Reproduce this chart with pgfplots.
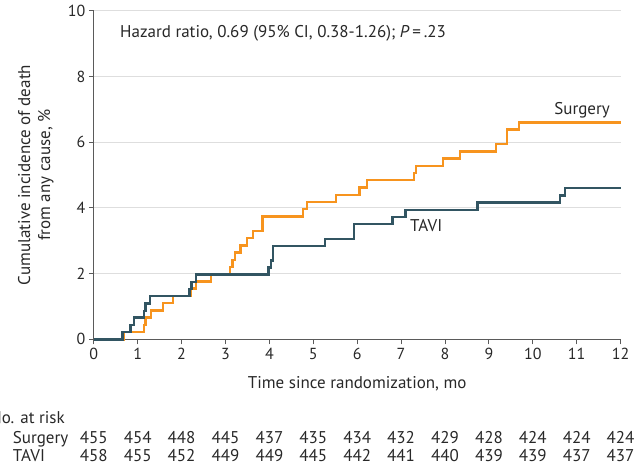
\documentclass[border=0pt]{standalone}
\usepackage{fontspec}
\setmainfont{PT Sans}
\usepackage{pgfplots}
\pgfplotsset{compat=1.18}
\definecolor{surg}{RGB}{247,148,30}
\definecolor{tavi}{RGB}{50,85,98}
\definecolor{txt}{RGB}{40,40,40}
\definecolor{axc}{RGB}{90,90,90}
\begin{document}
\begin{tikzpicture}[font=\fontsize{17}{20}\selectfont, text=txt]
\begin{axis}[at={(0,0)}, anchor=south west,
  scale only axis, width=526.8pt, height=328.6pt,
  xmin=0, xmax=12, ymin=0, ymax=10,
  axis lines=left,
  axis line style={axc, line width=0.9pt, -},
  xtick={0,1,...,12}, ytick={0,2,...,10},
  tick align=outside, major tick length=5pt,
  tick style={axc, line width=0.9pt},
  ymajorgrids, grid style={black!13, line width=1.2pt},
  /pgf/number format/assume math mode=true,
  ticklabel style={font=\fontsize{16}{19}\selectfont, text=txt},
  xlabel={Time since randomization, mo},
  xlabel style={at={(axis description cs:0.5,0)}, anchor=center, yshift=-44pt},
  ylabel={Cumulative incidence of death\\from any cause, \%},
  ylabel style={at={(axis description cs:-0.110,0.5)}, anchor=center, align=center},
  clip=false,
]
\addplot[const plot, color=surg, line width=2.4pt] coordinates {
(0,0) (0.69,0.22) (1.15,0.44) (1.18,0.66) (1.30,0.88) (1.57,1.10) (1.81,1.32)
(2.21,1.54) (2.33,1.76) (2.67,1.98) (3.10,2.20) (3.16,2.42) (3.22,2.64) (3.34,2.86)
(3.49,3.08) (3.63,3.30) (3.84,3.74) (4.77,3.96) (4.85,4.18) (5.52,4.40) (6.05,4.62)
(6.23,4.84) (7.29,5.06) (7.34,5.28) (7.96,5.50) (8.34,5.72) (9.16,5.94) (9.41,6.38)
(9.69,6.60) (12,6.60)};
\addplot[const plot, color=tavi, line width=2.4pt] coordinates {
(0,0) (0.65,0.22) (0.84,0.44) (0.92,0.66) (1.14,0.87) (1.18,1.09) (1.28,1.31)
(2.18,1.53) (2.23,1.75) (2.33,1.97) (3.98,2.18) (4.03,2.40) (4.08,2.84) (5.27,3.06)
(5.93,3.50) (6.80,3.72) (7.10,3.94) (8.74,4.16) (10.62,4.38) (10.73,4.60) (12,4.60)};
\end{axis}
% annotations
\node[anchor=base west, inner sep=0pt] at (26.2pt,302pt) {Hazard ratio, 0.69 (95\% CI, 0.38-1.26); \textit{P}\,=\,.23};
\node[anchor=base east, inner sep=0pt] at (516.2pt,225.3pt) {Surgery};
\node[anchor=base west, inner sep=0pt] at (316.2pt,107.6pt) {TAVI};
% number at risk
\node[anchor=base east, inner sep=0pt] at (-28.8pt,-84pt) {No. at risk};
\node[anchor=base west, inner sep=0pt] at (-81.1pt,-104pt) {Surgery};
\node[anchor=base west, inner sep=0pt] at (-81.1pt,-122.4pt) {TAVI};
\foreach \x/\s/\t [count=\i from 0] in {0/455/458,1/454/455,2/448/452,3/445/449,4/437/449,5/435/445,6/434/442,7/432/441,8/429/440,9/428/439,10/424/439,11/424/437,12/424/437}{
  \node[anchor=base, inner sep=0pt] at (\x*43.9pt,-104pt) {\s};
  \node[anchor=base, inner sep=0pt] at (\x*43.9pt,-122.4pt) {\t};
}
\pgfresetboundingbox
\useasboundingbox (-93.8pt,-127.7pt) rectangle (541.2pt,339.3pt);
\end{tikzpicture}
\end{document}
